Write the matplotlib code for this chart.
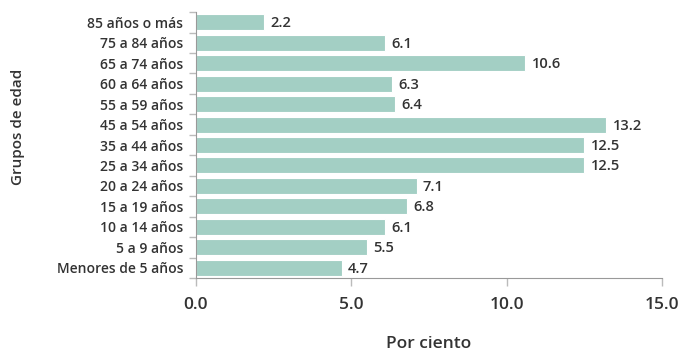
import numpy as np
import matplotlib.pyplot as plt

grupos = ['Menores de 5 años', '5 a 9 años', '10 a 14 años', '15 a 19 años',
          '20 a 24 años', '25 a 34 años', '35 a 44 años', '45 a 54 años',
          '55 a 59 años', '60 a 64 años', '65 a 74 años', '75 a 84 años',
          '85 años o más']
porcentaje = [4.7, 5.5, 6.1, 6.8, 7.1, 12.5, 12.5, 13.2, 6.4, 6.3, 10.6, 6.1, 2.2]

plt.rcParams['font.family'] = ['Open Sans', 'DejaVu Sans']

fig = plt.figure(figsize=(6.82, 3.55), dpi=100)
ax = fig.add_axes([0.287, 0.217, 0.684, 0.749])

y = np.arange(len(grupos))
ax.barh(y, porcentaje, height=0.78, color='#a3cfc4', edgecolor='white', linewidth=0.8)

for yi, v in zip(y, porcentaje):
    ax.text(v + 0.2, yi - 0.05, f'{v:.1f}', va='center', ha='left',
            fontsize=10.5, fontweight='semibold', color='#333333')

ax.set_xlim(0, 15)
ax.set_ylim(-0.5, len(grupos) - 0.5)
ax.set_xticks([0, 5, 10, 15])
ax.set_xticklabels(['0.0', '5.0', '10.0', '15.0'], fontsize=12.5, fontweight='semibold', color='#333333')
ax.set_yticks(y)
ax.set_yticklabels(grupos, fontsize=10, fontweight='semibold', color='#333333')
ax.set_yticks(np.arange(-0.5, len(grupos)), minor=True)
ax.tick_params(axis='y', which='major', length=0, pad=9)
ax.tick_params(axis='y', which='minor', length=5, color='#bbbbbb', width=1)
ax.tick_params(axis='x', length=6, color='#bbbbbb', width=1, pad=8)

for s in ['top', 'right']:
    ax.spines[s].set_visible(False)
for s in ['left', 'bottom']:
    ax.spines[s].set_color('#999999')

fig.text(0.026, 0.644, 'Grupos de edad', rotation=90, ha='center', va='center',
         fontsize=11, fontweight='semibold', color='#333333')
fig.text(0.628, 0.031, 'Por ciento', ha='center', va='center',
         fontsize=12.5, fontweight='semibold', color='#333333')

fig.savefig('out.png', dpi=100)
